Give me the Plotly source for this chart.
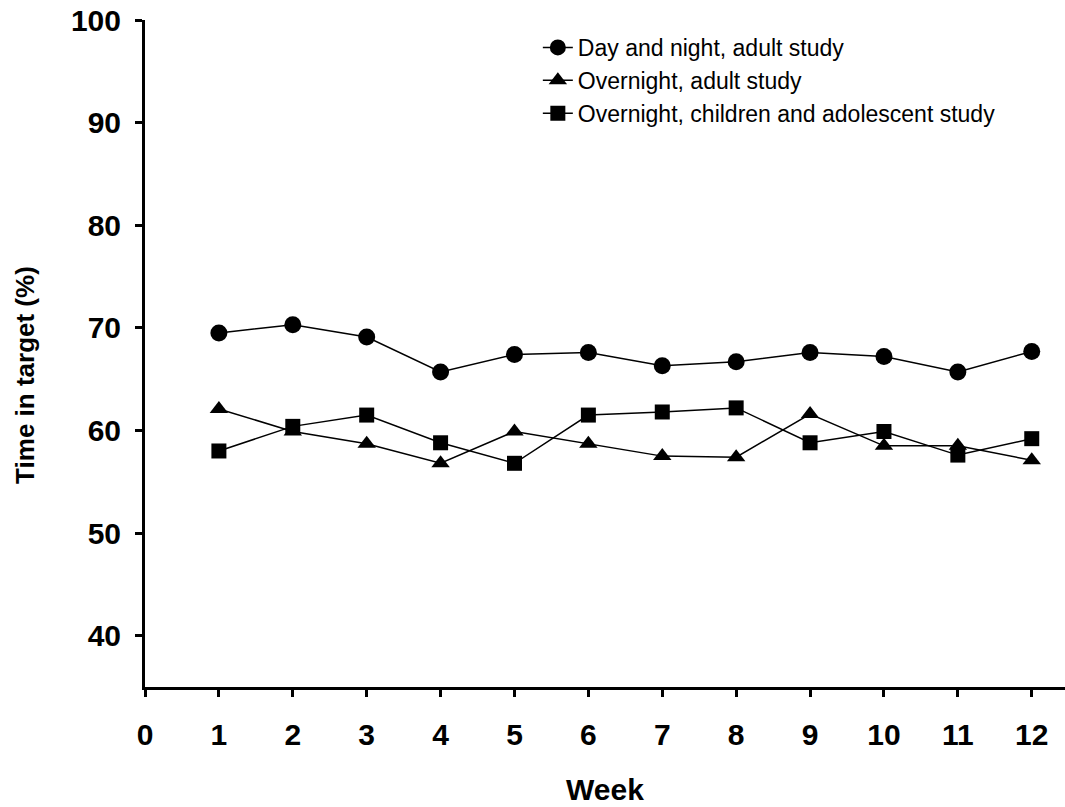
import plotly.graph_objects as go

weeks = [1, 2, 3, 4, 5, 6, 7, 8, 9, 10, 11, 12]
day_night_adult = [69.5, 70.3, 69.1, 65.7, 67.4, 67.6, 66.3, 66.7, 67.6, 67.2, 65.7, 67.7]
overnight_adult = [62.1, 59.9, 58.7, 56.8, 59.9, 58.7, 57.5, 57.4, 61.6, 58.5, 58.5, 57.1]
overnight_children = [58.0, 60.4, 61.5, 58.8, 56.8, 61.5, 61.8, 62.2, 58.8, 59.9, 57.6, 59.2]

series_names = ["Day and night, adult study", "Overnight, adult study",
                "Overnight, children and adolescent study"]
x_ticks = list(range(0, 13))
y_ticks = [40, 50, 60, 70, 80, 90, 100]

fig = go.Figure()
fig.add_trace(go.Scatter(x=weeks, y=day_night_adult, name=series_names[0], mode="lines+markers",
                         line=dict(color="black", width=1.5),
                         marker=dict(symbol="circle", size=17, color="black")))
fig.add_trace(go.Scatter(x=weeks, y=overnight_adult, name=series_names[1], mode="lines+markers",
                         line=dict(color="black", width=1.5),
                         marker=dict(symbol="triangle-up", size=16, color="black")))
fig.add_trace(go.Scatter(x=weeks, y=overnight_children, name=series_names[2], mode="lines+markers",
                         line=dict(color="black", width=1.5),
                         marker=dict(symbol="square", size=15, color="black")))

FONT = "Liberation Sans, Arial"
tick_font = dict(family=FONT, size=30, color="black", weight="bold")
fig.update_layout(
    width=1065, height=807,
    margin=dict(l=145, r=0, t=20, b=120),
    paper_bgcolor="white", plot_bgcolor="white",
    showlegend=True,
    legend=dict(x=0.427, y=0.991, xanchor="left", yanchor="top",
                font=dict(family=FONT, size=23, color="black"),
                bgcolor="rgba(0,0,0,0)", tracegroupgap=0, itemsizing="trace"),
    xaxis=dict(range=[0, 12.45], tickvals=x_ticks, ticktext=[str(t) for t in x_ticks],
               showline=True, linecolor="black", linewidth=3, ticks="outside",
               ticklen=7, tickwidth=3, tickcolor="black", showgrid=False, zeroline=False,
               tickfont=tick_font, ticklabelstandoff=12, automargin=False,
               ticklabeloverflow="allow",
               title=dict(text="<b>Week</b>", font=dict(family=FONT, size=30, color="black"),
                          standoff=29)),
    yaxis=dict(range=[35, 100], tickvals=y_ticks, ticktext=[str(t) for t in y_ticks],
               showline=True, linecolor="black", linewidth=3, ticks="outside",
               ticklen=7, tickwidth=3, tickcolor="black", showgrid=False, zeroline=False,
               tickfont=tick_font, ticklabelstandoff=8, automargin=False,
               ticklabeloverflow="allow"),
    annotations=[dict(text="<b>Time in target (%)</b>", xref="paper", yref="paper",
                      x=-0.1304, y=0.468, xanchor="center", yanchor="middle",
                      textangle=-90, showarrow=False,
                      font=dict(family=FONT, size=26, color="black"))],
)

fig.write_html("out.html", config={"displayModeBar": False},
               post_script="document.body.style.margin='0';")
